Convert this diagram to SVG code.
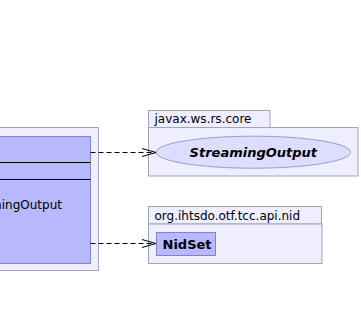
<svg xmlns="http://www.w3.org/2000/svg" width="361" height="309" viewBox="0 0 361 309">
  <style>
    .pkg { fill: #eeeeff; stroke: #a4a4b8; stroke-width: 1; }
    .cls { fill: #b8b8ff; stroke: #8484c0; stroke-width: 1; }
    .iface { fill: #ddddff; stroke: #9c9cc8; stroke-width: 1; }
    .sep { stroke: #000000; stroke-width: 1; }
    .lbl { font-family: "DejaVu Sans", sans-serif; font-size: 12px; fill: #000000; }
    .name { font-family: "DejaVu Sans", sans-serif; font-size: 13px; font-weight: bold; fill: #000000; }
    .dep { fill: none; stroke: #000000; stroke-width: 1; stroke-dasharray: 5,3; }
    .head { fill: none; stroke: #000000; stroke-width: 1; }
  </style>
  <rect width="361" height="309" fill="#ffffff"/>

  <!-- implementing class inside its package (cut off at the left edge) -->
  <g id="impl">
    <rect class="pkg" x="-20" y="127.5" width="118.5" height="143"/>
    <rect class="cls" x="-10" y="136.5" width="100.5" height="127"/>
    <line class="sep" x1="-10" y1="162.5" x2="90.5" y2="162.5"/>
    <line class="sep" x1="-10" y1="179.5" x2="90.5" y2="179.5"/>
    <text class="lbl" x="62" y="209" text-anchor="end">mingOutput</text>
  </g>

  <!-- package javax.ws.rs.core -->
  <g id="pkg-javax">
    <rect class="pkg" x="148.5" y="110.5" width="121.5" height="17"/>
    <rect class="pkg" x="148.5" y="127.5" width="209.5" height="48.5"/>
    <text class="lbl" x="154.5" y="123">javax.ws.rs.core</text>
  </g>
  <g id="StreamingOutput">
    <ellipse class="iface" cx="253.3" cy="152.2" rx="97.3" ry="16"/>
    <text class="name" x="253.3" y="157" text-anchor="middle" font-style="italic">StreamingOutput</text>
  </g>

  <!-- package org.ihtsdo.otf.tcc.api.nid -->
  <g id="pkg-nid">
    <rect class="pkg" x="148.5" y="206.5" width="173" height="17.5"/>
    <rect class="pkg" x="148.5" y="224" width="173.5" height="39.5"/>
    <text class="lbl" x="154.5" y="219.5">org.ihtsdo.otf.tcc.api.nid</text>
  </g>
  <g id="NidSet">
    <rect class="cls" x="156.5" y="232.5" width="59" height="23"/>
    <text class="name" x="162.5" y="248.5">NidSet</text>
  </g>

  <!-- dependencies -->
  <g id="connectors">
    <line class="dep" x1="90.5" y1="152.5" x2="155" y2="152.5"/>
    <polyline class="head" points="142,148.5 156,152.5 142,156.5"/>
    <line class="dep" x1="90.5" y1="243.5" x2="155" y2="243.5"/>
    <polyline class="head" points="142,239.5 156,243.5 142,247.5"/>
  </g>
</svg>
